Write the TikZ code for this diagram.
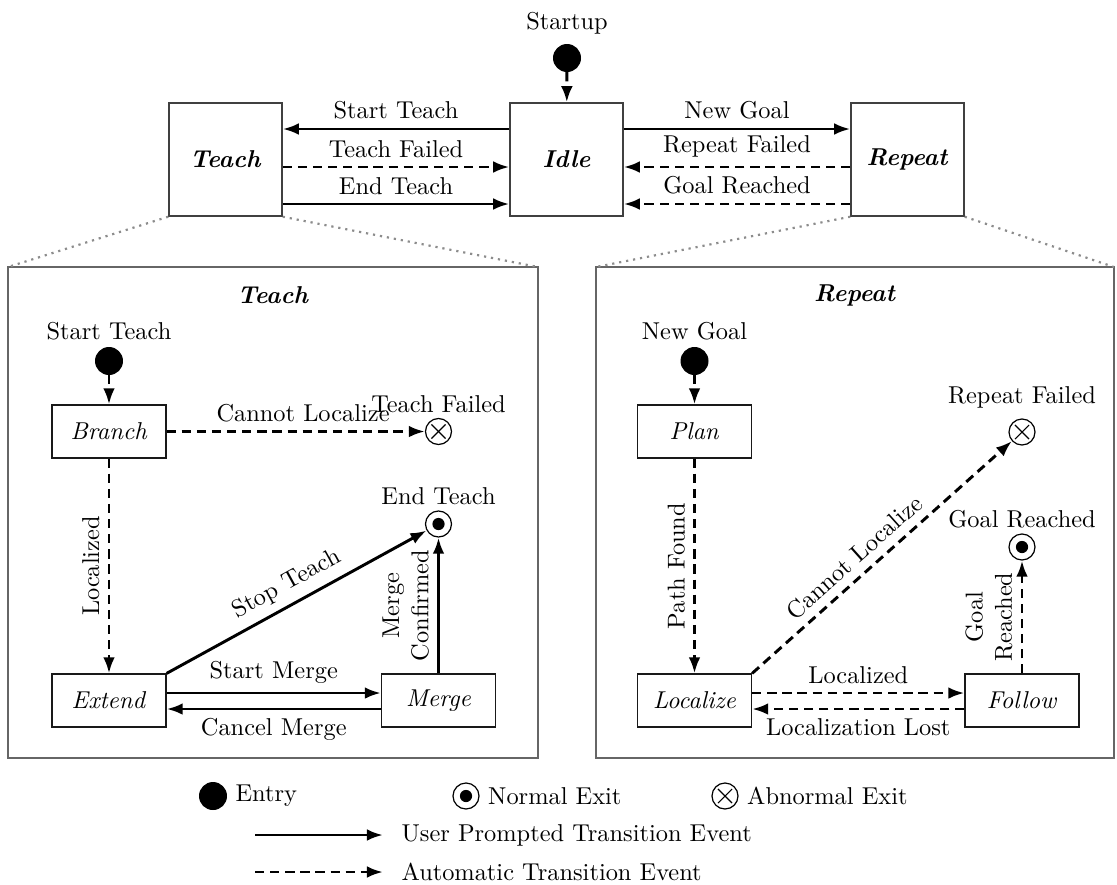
\documentclass[tikz,border=0pt]{standalone}
\usetikzlibrary{arrows.meta}
\begin{document}
\begin{tikzpicture}[x=0.41pt,y=-0.41pt,
  topbox/.style={draw=black!75, line width=0.6pt, minimum width={113*0.41pt}, minimum height={113*0.41pt}, inner sep=0pt},
  sbox/.style={draw=black!90, line width=0.5pt, minimum width={114*0.41pt}, minimum height={53*0.41pt}, inner sep=0pt},
  entry/.style={circle, fill=black, draw=black, minimum size={27*0.41pt}, inner sep=0pt},
  nexit/.style={circle, draw=black, line width=0.5pt, minimum size={26*0.41pt}, inner sep=0pt,
    path picture={\fill[black] (path picture bounding box.center) circle (2.5pt);}},
  aexit/.style={circle, draw=black, line width=0.5pt, minimum size={26*0.41pt}, inner sep=0pt,
    path picture={\draw[line width=0.45pt] ([shift={(-2.9pt,-2.9pt)}]path picture bounding box.center) -- ([shift={(2.9pt,2.9pt)}]path picture bounding box.center);
                  \draw[line width=0.45pt] ([shift={(-2.9pt,2.9pt)}]path picture bounding box.center) -- ([shift={(2.9pt,-2.9pt)}]path picture bounding box.center);}},
  usr/.style={line width=1.2pt, -{Latex[length=6.6pt,width=4.8pt]}},
  autom/.style={usr, dash pattern=on 3.8pt off 2.4pt},
  panel/.style={draw=black!60, line width=0.8pt},
  zoomline/.style={draw=black!45, line width=0.9pt, dash pattern=on 0.9pt off 2pt},
  vlbl/.style={midway, rotate=90, anchor=south, align=center}
]
\useasboundingbox (0,0) rectangle (1117,884);

% ---------- top level ----------
\node[topbox] (teach) at (225.5,159.5) {\textbf{\textit{Teach}}};
\node[topbox] (idle) at (566.5,159.5) {\textbf{\textit{Idle}}};
\node[topbox] (repeat) at (907.5,159.5) {\textbf{\textit{Repeat}}};
\node (startup) at (567,23) {Startup};
\node[entry] (e0) at (567,58) {};
\draw[autom] (e0) -- (idle);

\coordinate (ya) at (0,129);
\coordinate (yb) at (0,167);
\coordinate (yc) at (0,204);
\draw[usr] (idle.west |- ya) -- node[above]{Start Teach} (teach.east |- ya);
\draw[autom] (teach.east |- yb) -- node[above]{Teach Failed} (idle.west |- yb);
\draw[usr] (teach.east |- yc) -- node[above]{End Teach} (idle.west |- yc);
\draw[usr] (idle.east |- ya) -- node[above]{New Goal} (repeat.west |- ya);
\draw[autom] (repeat.west |- yb) -- node[above]{Repeat Failed} (idle.east |- yb);
\draw[autom] (repeat.west |- yc) -- node[above]{Goal Reached} (idle.east |- yc);

% ---------- panels ----------
\coordinate (lpnw) at (8,267);
\coordinate (lpne) at (538,267);
\coordinate (lpse) at (538,758);
\coordinate (rpnw) at (596,267);
\coordinate (rpne) at (1114,267);
\coordinate (rpse) at (1114,758);
\draw[panel] (lpnw) rectangle (lpse);
\draw[panel] (rpnw) rectangle (rpse);
\draw[zoomline] (teach.south west) -- (lpnw);
\draw[zoomline] (teach.south east) -- (lpne);
\draw[zoomline] (repeat.south west) -- (rpnw);
\draw[zoomline] (repeat.south east) -- (rpne);

% ---------- Teach panel ----------
\node (ttitle) at (273,295) {\textbf{\textit{Teach}}};
\node (stlbl) at (109,331) {Start Teach};
\node[entry] (e1) at (109,361) {};
\node[sbox] (branch) at (109,431.5) {\textit{Branch}};
\node[sbox] (extend) at (109,700.5) {\textit{Extend}};
\node[sbox] (merge) at (438.5,700.5) {\textit{Merge}};
\node[aexit, label={[inner sep=2pt]above:Teach Failed}] (tfail) at (438.5,431.5) {};
\node[nexit, label={[inner sep=2pt]above:End Teach}] (tend) at (438.5,524) {};

\draw[autom] (e1) -- (branch);
\draw[autom] (branch) -- node[above, xshift=3pt]{Cannot Localize} (tfail);
\draw[autom] (branch) -- node[vlbl]{Localized} (extend);
\draw[usr] (extend.north east) -- node[midway, sloped, above]{Stop Teach} (tend);
\draw[usr] (merge) -- node[vlbl]{Merge\\Confirmed} (tend);
\coordinate (ym1) at (0,693);
\coordinate (ym2) at (0,709);
\draw[usr] (extend.east |- ym1) -- node[above]{Start Merge} (merge.west |- ym1);
\draw[usr] (merge.west |- ym2) -- node[below]{Cancel Merge} (extend.east |- ym2);

% ---------- Repeat panel ----------
\node (rtitle) at (855,295) {\textbf{\textit{Repeat}}};
\node (nglbl) at (694.5,331) {New Goal};
\node[entry] (e2) at (694.5,361) {};
\node[sbox] (plan) at (694.5,431.5) {\textit{Plan}};
\node[sbox] (localize) at (694.5,700.5) {\textit{Localize}};
\node[sbox] (follow) at (1022,700.5) {\textit{Follow}};
\node[aexit, label={[inner sep=4pt]above:Repeat Failed}] (rfail) at (1022,432) {};
\node[nexit, label={[inner sep=2pt]above:Goal Reached}] (rgoal) at (1022,547) {};

\draw[autom] (e2) -- (plan);
\draw[autom] (plan) -- node[vlbl]{Path Found} (localize);
\draw[autom] (localize.north east) -- node[pos=0.44, sloped, above]{Cannot Localize} (rfail);
\draw[autom] (follow) -- node[vlbl]{Goal\\Reached} (rgoal);
\draw[autom] (localize.east |- ym1) -- node[above]{Localized} (follow.west |- ym1);
\draw[autom] (follow.west |- ym2) -- node[below]{Localization Lost} (localize.east |- ym2);

% ---------- legend ----------
\node[entry] (lgE) at (213,796) {};
\node[anchor=west] (lgEt) at (lgE.east) {Entry};
\node[nexit] (lgN) at (466,796) {};
\node[anchor=west] (lgNt) at (lgN.east) {Normal Exit};
\node[aexit] (lgA) at (725,796) {};
\node[anchor=west] (lgAt) at (lgA.east) {Abnormal Exit};
\coordinate (la1) at (255,835);
\coordinate (la2) at (383,835);
\draw[usr] (la1) -- (la2);
\node[anchor=west] (lgU) at (393,835) {User Prompted Transition Event};
\coordinate (lb1) at (255,872);
\coordinate (lb2) at (383,872);
\draw[autom] (lb1) -- (lb2);
\node[anchor=west] (lgD) at (393,872) {Automatic Transition Event};
\end{tikzpicture}
\end{document}
